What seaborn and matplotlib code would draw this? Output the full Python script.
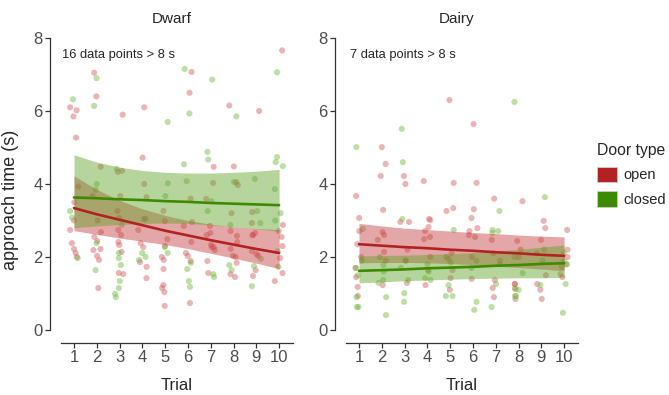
import matplotlib
matplotlib.use("Agg")
import matplotlib.pyplot as plt
from matplotlib.patches import Patch
import numpy as np
import pandas as pd
import seaborn as sns

# data, one list per trial 1..10
trials = [1, 2, 3, 4, 5, 6, 7, 8, 9, 10]

dwarf_open = [
    [6.1, 6.02, 5.85, 5.27, 3.93, 3.5, 3.0, 2.74, 2.38, 2.22, 2.11, 2.0],
    [7.05, 6.4, 4.47, 3.67, 3.0, 2.68, 2.55, 2.44, 2.22, 2.19, 2.03, 1.92, 1.15],
    [5.9, 4.36, 4.33, 3.67, 3.26, 3.07, 2.74, 2.6, 2.41, 2.33, 2.14, 1.56, 1.53],
    [6.1, 4.72, 4.0, 3.64, 3.04, 2.74, 2.38, 2.27, 1.86, 1.73, 1.42],
    [3.26, 2.98, 2.49, 2.3, 2.0, 1.92, 1.67, 1.23, 1.15, 1.04, 0.66],
    [7.07, 6.5, 3.6, 2.96, 2.85, 2.41, 2.11, 2.03, 1.89, 0.74],
    [4.47, 4.03, 3.59, 2.85, 2.66, 2.6, 2.33, 2.27, 2.27, 2.19, 1.89, 1.56],
    [6.15, 4.48, 4.05, 3.97, 3.2, 2.71, 2.58, 2.41, 2.22, 2.03, 2.0, 1.84, 1.53, 1.45],
    [6.0, 3.23, 2.93, 2.66, 2.6, 2.6, 2.16, 2.08, 2.03, 1.64, 1.48],
    [7.66, 2.88, 2.71, 2.55, 2.3, 1.97, 1.56, 1.34],
]
dwarf_closed = [
    [6.32, 3.26, 3.08, 1.97],
    [6.9, 6.14, 4.0, 3.84, 2.38, 1.64],
    [4.41, 2.88, 2.11, 1.97, 1.78, 1.34, 1.15, 0.99, 0.9],
    [3.05, 2.11, 2.0, 1.92],
    [5.7, 4.02, 3.67, 2.27, 2.11],
    [7.15, 5.93, 4.54, 4.08, 1.84, 1.67, 1.34, 1.18],
    [6.86, 4.88, 4.67, 3.53, 3.26, 1.53, 1.45],
    [5.85, 4.05, 2.88, 1.78, 1.64],
    [4.14, 3.26, 2.93, 1.95, 1.75, 1.2],
    [7.06, 4.74, 4.6, 4.49, 3.86, 3.2, 3.0, 2.16, 1.73],
]
dairy_open = [
    [3.67, 3.07, 2.71, 2.35, 2.0, 1.7, 1.45, 1.18, 0.93],
    [5.01, 4.55, 4.22, 3.29, 2.68, 2.6, 2.47, 2.14, 1.9, 1.23],
    [4.22, 4.0, 2.96, 2.96, 2.2, 1.9, 1.29],
    [4.08, 3.04, 3.01, 2.82, 2.71, 2.55, 2.49, 2.0, 1.64, 1.23],
    [6.3, 4.03, 3.34, 3.26, 2.1, 1.95, 1.64, 1.42, 1.1],
    [5.64, 4.03, 3.31, 3.07, 2.79, 2.71, 2.6, 2.55, 2.0, 1.4],
    [3.6, 2.47, 2.1, 1.9, 1.37, 1.15, 0.9],
    [3.53, 2.44, 2.2, 2.0, 1.26, 1.26, 1.12, 0.85],
    [2.99, 2.79, 2.47, 2.1, 1.5, 1.26, 1.1, 0.85],
    [2.74, 2.2, 2.0, 1.8, 1.53, 1.45],
]
dairy_closed = [
    [5.01, 2.77, 1.9, 1.7, 1.5, 0.9, 0.63, 0.63],
    [2.0, 1.78, 1.6, 1.37, 1.29, 0.9, 0.41],
    [5.51, 4.6, 3.04, 1.9, 1.7, 1.37, 1.01, 0.77],
    [1.8, 1.6, 1.42, 1.37],
    [2.74, 2.0, 1.85, 1.23, 0.93, 0.93],
    [1.9, 1.7, 0.77, 0.55],
    [3.26, 2.74, 2.71, 2.66, 1.8, 1.26, 0.63],
    [6.25, 2.0, 1.56, 1.15, 1.1, 0.93, 0.93],
    [3.64, 2.2, 1.9, 1.23],
    [2.1, 1.89, 1.8, 1.73, 1.26, 0.47],
]

# model fit per trial (mean, lower CI, upper CI)
dwarf_open_fit = [3.34, 3.17, 3.02, 2.87, 2.72, 2.59, 2.46, 2.34, 2.22, 2.11]
dwarf_open_lo = [2.72, 2.62, 2.52, 2.43, 2.34, 2.23, 2.1, 1.97, 1.83, 1.68]
dwarf_open_hi = [4.22, 3.85, 3.55, 3.32, 3.14, 3.0, 2.9, 2.83, 2.78, 2.75]
dwarf_closed_fit = [3.63, 3.61, 3.58, 3.56, 3.53, 3.51, 3.48, 3.46, 3.44, 3.42]
dwarf_closed_lo = [2.8, 2.85, 2.89, 2.92, 2.93, 2.92, 2.88, 2.83, 2.77, 2.7]
dwarf_closed_hi = [4.8, 4.6, 4.46, 4.37, 4.32, 4.3, 4.3, 4.32, 4.35, 4.4]
dairy_open_fit = [2.35, 2.31, 2.27, 2.24, 2.2, 2.17, 2.13, 2.1, 2.06, 2.03]
dairy_open_lo = [1.84, 1.85, 1.85, 1.84, 1.82, 1.79, 1.75, 1.71, 1.67, 1.62]
dairy_open_hi = [2.92, 2.85, 2.79, 2.75, 2.71, 2.67, 2.64, 2.6, 2.57, 2.55]
dairy_closed_fit = [1.62, 1.64, 1.66, 1.69, 1.71, 1.73, 1.76, 1.78, 1.81, 1.83]
dairy_closed_lo = [1.29, 1.32, 1.35, 1.37, 1.39, 1.41, 1.42, 1.43, 1.43, 1.44]
dairy_closed_hi = [2.03, 2.04, 2.05, 2.07, 2.09, 2.12, 2.16, 2.21, 2.27, 2.33]

panel_names = ["Dwarf", "Dairy"]
excluded_notes = ["16 data points > 8 s", "7 data points > 8 s"]
door_types = ["open", "closed"]

line_colors = {"open": "#b22222", "closed": "#3d8b00"}
point_colors = {"open": "#d35a5a", "closed": "#6cb83a"}
band_colors = {"open": "#c43c3c", "closed": "#5fa326"}


def to_long(per_trial, door):
    rows = []
    for t, vals in zip(trials, per_trial):
        for v in vals:
            rows.append({"trial": t, "time": v, "door": door})
    return rows


def draw_panel(ax, name, note, raw, fits, note_x):
    df = pd.DataFrame(to_long(raw["open"], "open") + to_long(raw["closed"], "closed"))
    sns.stripplot(data=df, x="trial", y="time", hue="door", hue_order=door_types,
                  palette=point_colors, native_scale=True, jitter=0.2, size=4.4,
                  linewidth=0, alpha=0.45, legend=False, ax=ax, zorder=1)
    for door in door_types:
        fit, lo, hi = fits[door]
        ax.fill_between(trials, lo, hi, color=band_colors[door], alpha=0.45,
                        linewidth=0, zorder=2)
    for door in door_types:
        fit, lo, hi = fits[door]
        sns.lineplot(x=trials, y=fit, color=line_colors[door], linewidth=1.9,
                     ax=ax, zorder=3)

    ax.set_xlim(0.43, 10.61)
    ax.set_ylim(0, 8)
    ax.set_xticks(trials)
    ax.set_yticks([0, 2, 4, 6, 8])
    for side in ["top", "right"]:
        ax.spines[side].set_visible(False)
    ax.spines["left"].set_position(("outward", 8))
    ax.spines["bottom"].set_position(("outward", 9.4))
    for side in ["left", "bottom"]:
        ax.spines[side].set_color("#333333")
        ax.spines[side].set_linewidth(0.9)
    ax.tick_params(axis="both", length=3.3, width=0.9, color="#333333",
                   labelcolor="#4d4d4d", labelsize=12, pad=2)
    ax.set_title(name, fontsize=11, pad=10.5, x=0.476)
    ax.set_xlabel("Trial", fontsize=12)
    ax.xaxis.set_label_coords(0.5, -0.165)
    ax.set_ylabel("")
    ax.text(note_x, 0.932, note, transform=ax.transAxes, fontsize=9.3,
            va="baseline", ha="left")


def main():
    sns.set_style("ticks")
    plt.rcParams["font.family"] = ["Liberation Sans", "DejaVu Sans"]

    fig = plt.figure(figsize=(6.69, 3.95), dpi=100)
    ax1 = fig.add_axes([0.0912, 0.1646, 0.3468, 0.7392])
    ax2 = fig.add_axes([0.5172, 0.1646, 0.3468, 0.7392])

    draw_panel(ax1, panel_names[0], excluded_notes[0],
               {"open": dwarf_open, "closed": dwarf_closed},
               {"open": (dwarf_open_fit, dwarf_open_lo, dwarf_open_hi),
                "closed": (dwarf_closed_fit, dwarf_closed_lo, dwarf_closed_hi)},
               0.004)
    draw_panel(ax2, panel_names[1], excluded_notes[1],
               {"open": dairy_open, "closed": dairy_closed},
               {"open": (dairy_open_fit, dairy_open_lo, dairy_open_hi),
                "closed": (dairy_closed_fit, dairy_closed_lo, dairy_closed_hi)},
               0.017)

    ax1.set_ylabel("approach time (s)", fontsize=13)
    ax1.yaxis.set_label_coords(-0.18, 0.445)

    handles = [Patch(facecolor=line_colors[d], edgecolor="#cccccc", linewidth=0.6, label=d)
               for d in door_types]
    fig.legend(handles=handles, title="Door type", loc="upper left",
               bbox_to_anchor=(597 / 669, 1 - 143 / 395), frameon=False,
               fontsize=10.5, title_fontsize=11.3, handlelength=1.4, handleheight=1.25,
               handletextpad=0.4, labelspacing=0.6, borderpad=0, borderaxespad=0,
               alignment="left")

    fig.savefig("out.png", dpi=100)
    plt.close(fig)


if __name__ == "__main__":
    np.random.seed(7)
    main()
